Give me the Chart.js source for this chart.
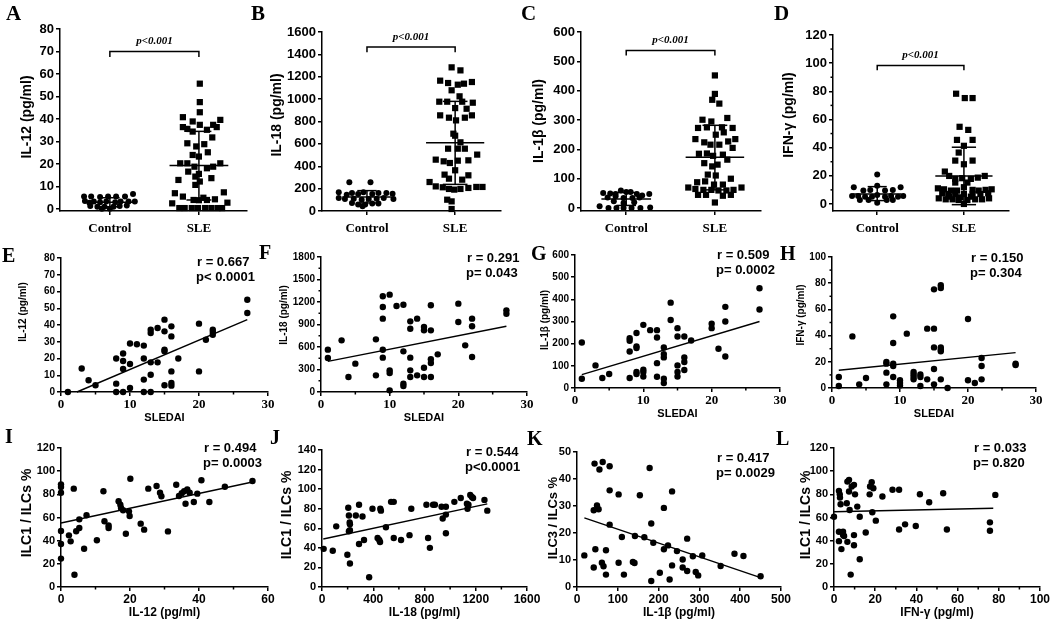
<!DOCTYPE html>
<html>
<head>
<meta charset="utf-8">
<script src="https://cdn.jsdelivr.net/npm/chart.js@4.4.1/dist/chart.umd.min.js"></script>
<style>
  html, body { margin: 0; padding: 0; background: #fff; }
  body { width: 1050px; height: 623px; overflow: hidden; position: relative; }
  canvas { position: absolute; }
</style>
</head>
<body>
<script>
var sans = '"Liberation Sans", Arial, sans-serif';
var serif = '"Liberation Serif", "Times New Roman", serif';

// ---- top row: Control vs SLE, [x offset from group centre, value] ----
var groupLabels = ['Control', 'SLE'];
var pLabel = 'p<0.001';

var il12Ctrl = [[-0.29,5.5],[-0.21,5.5],[-0.11,5.3],[-0.02,5.5],[0.07,5.5],[0.17,5.5],[0.26,6.7],[-0.28,3.6],[-0.23,2.8],[-0.18,3.3],[-0.11,3.0],[-0.04,3.3],[0.06,3.0],[0.12,3.3],[0.21,3.3],[0.28,3.3],[-0.22,1.3],[-0.14,1.0],[-0.06,1.0],[0.04,1.0],[0.11,1.3],[0.19,1.5],[-0.09,0.1],[0,0.1]];
var il12Sle = [[0.01,55.7],[0.01,47.5],[0.01,43],[-0.18,40.8],[-0.07,38.9],[0.01,37.4],[0.16,37.4],[0.24,39.6],[-0.18,36.4],[-0.13,35.6],[-0.07,34.4],[0.09,35.2],[0.2,36.4],[0.15,31.8],[-0.13,29.2],[-0.03,27.8],[0.06,28.8],[-0.07,24],[0.1,25.2],[0,23.3],[-0.21,20.3],[-0.13,20.3],[0.24,20.3],[-0.05,18.8],[0.09,18.1],[0.16,18.8],[-0.12,16.6],[0,15.6],[-0.04,14.4],[0.14,13.7],[-0.23,12.9],[0.01,12.2],[-0.04,10.7],[-0.27,7],[0.28,7.4],[-0.18,5.5],[0.05,5],[-0.06,4],[0,3.9],[0.09,4],[0.18,4.3],[-0.3,2.5],[0.32,2.8],[-0.22,0.4],[-0.16,0.4],[-0.08,0.4],[-0.01,0.4],[0.07,0.4],[0.14,0.4],[0.21,0.4],[0.26,0.4]];
var il12Mean = [3.0, 19.3], il12SdHi = [5.0, 34.5], il12SdLo = [1.0, 4.0];

var il18Ctrl = [[-0.2,256],[0.04,256],[-0.32,167],[-0.23,146],[-0.17,161],[-0.1,152],[-0.04,167],[0.06,152],[0.13,161],[0.22,161],[0.29,155],[-0.32,116],[-0.25,107],[-0.15,110],[-0.06,101],[0.02,107],[0.11,110],[0.19,116],[0.3,107],[-0.17,72],[-0.1,57],[-0.02,57],[0.06,66],[0.13,66],[-0.05,42]];
var il18Sle = [[-0.04,1284],[0.06,1257],[-0.17,1165],[-0.08,1144],[0.03,1129],[0.1,1138],[0.19,1153],[-0.04,1079],[0.05,1025],[-0.18,977],[-0.09,977],[0.08,977],[0.2,968],[0,920],[0.13,914],[-0.17,855],[-0.07,834],[0.01,810],[0.11,834],[0.19,855],[-0.02,691],[0,673],[0.06,614],[-0.08,557],[0.03,557],[0.11,557],[0.25,504],[-0.22,459],[-0.13,444],[-0.06,429],[0.03,450],[0.15,453],[-0.12,325],[0,364],[0.15,319],[-0.07,289],[0.08,280],[-0.29,259],[-0.22,220],[-0.14,212],[-0.07,197],[-0.01,191],[0.06,197],[0.15,206],[0.24,215],[0.31,215],[-0.09,101],[-0.04,86],[-0.04,18]];
var il18Mean = [125, 611], il18SdHi = [182, 980], il18SdLo = [72, 238];

var il1bCtrl = [[-0.06,60],[0,55],[0.05,55],[-0.26,51],[-0.18,50],[-0.12,48],[0.12,48],[0.18,43],[0.26,48],[-0.21,36],[-0.12,40],[-0.03,34],[0.07,34],[0.15,36],[-0.14,23],[-0.03,17],[0.09,20],[-0.3,6],[-0.2,0],[-0.11,0],[-0.03,0],[0.06,0],[0.16,0],[0.27,2]];
var il1bSle = [[0,452],[0,389],[-0.03,369],[0.05,356],[-0.14,301],[-0.04,295],[0.14,307],[-0.19,273],[-0.09,275],[0.08,275],[0.2,273],[0.1,258],[0.01,250],[-0.22,235],[0.23,235],[-0.12,224],[-0.05,216],[0.05,216],[0.15,227],[0.2,205],[-0.18,185],[-0.09,186],[-0.02,178],[0.09,182],[0.14,165],[-0.12,153],[-0.03,142],[0.03,148],[-0.08,114],[0.01,111],[0.18,100],[-0.2,88],[-0.11,91],[-0.01,80],[0.09,80],[-0.3,70],[-0.22,65],[-0.13,62],[-0.04,62],[0.04,60],[0.13,60],[0.21,62],[0.3,70],[-0.19,45],[-0.1,45],[0.09,42],[0.18,45],[0,19]];
var il1bMean = [31, 173], il1bSdHi = [53, 282], il1bSdLo = [9, 62];

var ifngCtrl = [[0,21],[-0.27,11.9],[-0.16,9.5],[-0.08,10],[0,13],[0.09,9.5],[0.18,10],[0.27,11.9],[-0.29,5.7],[-0.22,5.7],[-0.14,5.2],[-0.06,5.2],[0,6.4],[0.09,5.2],[0.16,5.7],[0.24,5.2],[0.3,5.7],[-0.2,2.8],[-0.1,2.8],[0,0.9],[0.11,2.8],[0.18,2.8]];
var ifngSle = [[-0.09,78.3],[0.01,75.2],[0.1,75.2],[-0.05,54.8],[0.05,52.6],[-0.08,45.5],[0.1,45.5],[0,41.3],[-0.06,36.5],[-0.1,30.8],[0.1,30.8],[0,28.2],[-0.22,23],[-0.17,19.9],[-0.1,17.8],[-0.02,18.3],[0.08,17.8],[0.16,18.7],[0.24,19.9],[-0.1,15.2],[0.04,15.2],[0,11.9],[-0.3,11.1],[-0.23,10.4],[-0.15,9.5],[-0.08,9.5],[0.1,10],[0.17,9.5],[0.25,10],[0.32,10.4],[-0.25,7.6],[-0.18,7.1],[-0.1,7.1],[0,7.1],[0.1,7.1],[0.19,7.1],[0.28,7.6],[-0.29,4],[-0.21,3.3],[-0.13,3.3],[-0.06,2.8],[0.04,2.8],[0.13,3.3],[0.21,3.3],[0.29,4],[-0.17,5.2],[-0.04,4.7],[0.08,5.2],[0,0]];
var ifngMean = [7.1, 19.9], ifngSdHi = [12.3, 40.3], ifngSdLo = [2.4, -0.5];

// ---- middle row: cytokine vs SLEDAI, [SLEDAI, value] ----
var sledaiIl12 = [[1,0],[3,14],[4,7],[5,4],[8,20],[8,5],[8,0],[9,23],[9,18.5],[9,13.7],[9,0],[10,29],[10,16.7],[10,2.4],[11,28.5],[12,27.7],[12,20],[12,7.4],[12,0],[13,37.2],[13,35.2],[13,17.7],[13,10.3],[13,0],[14,38.2],[14,17.7],[15,43.2],[15,36.2],[15,25.3],[15,24.3],[15,4],[16,39.2],[16,33.2],[16,12.3],[16,5.4],[16,3.8],[17,20],[20,40.8],[20,12.3],[21,31.2],[22,37.2],[22,35.8],[22,34.2],[27,55.1],[27,47.2]];
var sledaiIl18 = [[1,565],[1,453],[3,689],[4,200],[5,378],[8,702],[8,222],[9,1276],[9,1133],[9,978],[9,564],[9,458],[10,1298],[10,289],[10,253],[10,22],[11,1147],[12,1164],[12,542],[12,111],[12,80],[13,942],[13,844],[13,458],[13,289],[13,200],[14,978],[14,222],[15,867],[15,822],[15,324],[15,200],[16,1156],[16,822],[16,436],[16,387],[16,200],[17,502],[20,1178],[20,933],[21,622],[22,978],[22,876],[22,467],[27,1089],[27,1044]];
var sledaiIl1b = [[1,205],[1,42],[3,102],[4,45],[5,63],[8,225],[8,213],[8,165],[8,45],[9,248],[9,188],[9,180],[9,72],[9,63],[10,285],[10,82],[10,72],[10,52],[11,261],[12,261],[12,228],[12,112],[12,51],[13,183],[13,153],[13,138],[13,42],[13,22],[14,385],[14,307],[15,270],[15,232],[15,102],[15,72],[15,52],[16,232],[16,138],[16,117],[16,81],[17,214],[20,290],[20,270],[21,177],[22,366],[22,300],[22,142],[27,450],[27,354]];
var sledaiIfng = [[1,8.4],[1,1.5],[3,39.4],[4,2.8],[5,7.6],[8,19.8],[8,18.6],[8,11.7],[8,2.8],[9,54.7],[9,34.4],[9,18.6],[9,16.8],[9,8.4],[10,5.9],[10,3.8],[10,2],[11,41.5],[12,12.2],[12,10.4],[12,8.4],[12,6.6],[13,10.4],[13,8.4],[13,1.5],[14,45.3],[14,6.6],[15,75.3],[15,45.3],[15,31],[15,14.5],[15,2.8],[16,78.4],[16,76.3],[16,31],[16,29.3],[16,28],[16,6.6],[17,0],[20,52.7],[20,5.9],[21,3.8],[22,22.9],[22,16.8],[22,6.6],[27,18.6],[27,17.6]];
var fitIl12 = [[2.3,0],[27,43.2]];
var fitIl18 = [[1,409],[27,876]];
var fitIl1b = [[1,60],[27,300]];
var fitIfng = [[1,13.5],[27,27]];

// ---- bottom row: ILC % vs cytokine, [cytokine, %] ----
var ilc1Il12 = [[0,88.6],[0,86.3],[0,81.4],[0,48.3],[0,37.1],[0,24.5],[2.3,44.6],[2.8,39.4],[3.7,84.9],[3.9,10.6],[4.4,48.1],[5.3,58.4],[5.3,50.9],[6.7,33],[7.4,61.9],[10.4,40.3],[12.3,82.6],[12.6,56.7],[13.8,53.2],[13.8,50.9],[16.7,74],[17.2,71.1],[17.4,68.2],[18,66.2],[18.8,46],[19.7,65.3],[19.9,61.3],[20.1,93.5],[23.1,54.7],[24.1,49.5],[25.3,84.9],[27.7,87.2],[28.7,81.4],[29.1,78.3],[31,48],[33.4,88.3],[34.2,78.6],[35,80.9],[35.7,82.6],[36.1,71.9],[36.6,84.3],[37.3,81.4],[38.5,73.4],[39.5,80.6],[40.7,92.1],[43,73.4],[47.5,86.6],[55.5,91.5]];
var ilc1Il18 = [[13,39],[84,37],[111,62],[198,33],[205,81],[210,73],[210,57],[216,66],[218,64],[218,58],[218,24],[264,73],[289,84],[289,44],[316,72],[328,48],[368,10],[394,80],[434,50],[447,48],[453,46],[455,80],[460,78],[499,61],[539,87],[560,87],[560,50],[617,48],[683,53],[697,80],[815,84],[828,50],[842,40],[867,84],[881,84],[933,82],[942,70],[967,82],[967,74],[967,55],[1033,87],[1083,91],[1131,85],[1136,80],[1143,84],[1157,94],[1170,92],[1179,91],[1268,89],[1290,78]];
var ilc3Il1b = [[18,11.7],[41,7.2],[43,45.7],[45,14],[41,28.4],[49,30.2],[53,28.8],[55,43.5],[63,46.3],[61,9],[65,7.7],[71,13.6],[71,4.6],[80,44.7],[80,35.8],[80,23.1],[102,34.3],[102,9],[110,18.5],[115,4.6],[137,9.3],[141,8.9],[142,18.9],[154,34],[165,18.4],[178,44.1],[182,23.5],[182,2.2],[187,16.4],[203,5.3],[213,29.3],[213,14],[223,15.4],[227,2.8],[233,35.4],[233,8],[245,13.3],[259,10.2],[259,7.2],[270,17.9],[270,5.9],[284,11.4],[291,5.6],[297,4.3],[307,11.7],[352,7.8],[386,12.3],[408,11.5],[450,4]];
var ilc1Ifng = [[0,60.7],[2.4,83],[2.8,80],[2.9,77.2],[3.2,71.4],[2.4,47.7],[2.4,39.6],[3.6,32.7],[4.4,47.7],[4.4,44.8],[4.9,44],[6.5,39],[6.2,72.3],[6.5,91],[7.3,92.5],[7.3,82.4],[7.6,66.5],[8.1,10.7],[8.6,86.8],[9.7,88.2],[10.2,80],[9.7,44.8],[9.7,36.1],[11.3,69.4],[12.5,60.7],[12.5,24],[15.4,47.1],[17.3,80],[17.5,86.8],[18.3,90.5],[19.1,85.3],[18.6,64.5],[20.3,57.3],[23.5,78.1],[28.4,83.9],[31.6,83.9],[31.6,49.7],[34.5,54.1],[39.7,52.6],[41.7,80.1],[46.2,73.2],[53,81],[54.8,49.7],[75.7,55.8],[75.7,48.6],[78.3,79.5]];
var fitIlc1Il12 = [[0,55.3],[55.5,90.6]];
var fitIlc1Il18 = [[10,49],[1290,85]];
var fitIlc3Il1b = [[18,25.6],[450,3.5]];
var fitIlc1Ifng = [[0,65],[77.3,68]];

// ---- tick labels ----
var t80 = [0,10,20,30,40,50,60,70,80];
var t1600 = [0,200,400,600,800,1000,1200,1400,1600];
var t600 = [0,100,200,300,400,500,600];
var t120 = [0,20,40,60,80,100,120];
var t1800 = [0,300,600,900,1200,1500,1800];
var t100 = [0,20,40,60,80,100];
var t140 = [0,20,40,60,80,100,120,140];
var t50 = [0,10,20,30,40,50];
var tSledai = [0,10,20,30];
var tIl12 = [0,20,40,60];
var tIl18 = [0,400,800,1200,1600];
var tIl1b = [0,100,200,300,400,500];
var tIfng = [0,20,40,60,80,100];

function dots(pts, base, style, r) {
    return {
        data: pts.map(function (q) { return {x: base + q[0], y: q[1]}; }),
        pointStyle: style, pointRadius: r, backgroundColor: '#000',
        borderWidth: 0, clip: false
    };
}
function seg(a, b, w) {
    return {
        data: [{x: a[0], y: a[1]}, {x: b[0], y: b[1]}],
        showLine: true, borderColor: '#000', borderWidth: w || 1.5,
        pointRadius: 0, clip: false
    };
}
function meanSd(mean, hi, lo) {
    var out = [];
    [1, 2].forEach(function (c, i) {
        var mw = i ? 0.33 : 0.28, cw = i ? 0.14 : 0.11;
        out.push(seg([c - mw, mean[i]], [c + mw, mean[i]]));
        out.push(seg([c - cw, hi[i]], [c + cw, hi[i]]));
        out.push(seg([c - cw, lo[i]], [c + cw, lo[i]]));
        out.push(seg([c, lo[i]], [c, hi[i]]));
    });
    return out;
}
function groupSets(ctrl, sle, mean, hi, lo) {
    return meanSd(mean, hi, lo).concat([dots(ctrl, 1, 'circle', 3), dots(sle, 2, 'rect', 4.4)]);
}
function corrSets(pts, fit) {
    return [seg(fit[0], fit[1], 1.4), dots(pts, 0, 'circle', 3.2)];
}

function txt(ctx, s, x, y, font, align, rot) {
    ctx.save();
    ctx.font = font;
    ctx.textAlign = align || 'center';
    ctx.textBaseline = 'middle';
    ctx.fillStyle = '#000';
    ctx.translate(x, y);
    if (rot) ctx.rotate(-Math.PI / 2);
    ctx.fillText(s, 0, 0);
    ctx.restore();
}

var panels = [
    {rect: [60, 29, 247, 211], x: [0.44, 2.54, [1, 2]], y: [-0.9, 80, t80], row: 1,
     sets: groupSets(il12Ctrl, il12Sle, il12Mean, il12SdHi, il12SdLo),
     letter: ['A', 6, 15], yTitle: ['IL-12 (pg/ml)', 27, 117, 14], bracket: [70, 67.6]},
    {rect: [322, 32, 501, 211], x: [0.49, 2.52, [1, 2]], y: [0, 1600, t1600], row: 1,
     sets: groupSets(il18Ctrl, il18Sle, il18Mean, il18SdHi, il18SdLo),
     letter: ['B', 251, 15], yTitle: ['IL-18 (pg/ml)', 277, 115, 14], bracket: [1466, 1418]},
    {rect: [581, 32, 761, 211], x: [0.49, 2.52, [1, 2]], y: [-10, 600, t600], row: 1,
     sets: groupSets(il1bCtrl, il1bSle, il1bMean, il1bSdHi, il1bSdLo),
     letter: ['C', 521, 15], yTitle: ['IL-1\u03b2 (pg/ml)', 539, 121, 14], bracket: [537, 520]},
    {rect: [833, 35, 1009, 211], x: [0.49, 2.52, [1, 2]], y: [-5, 120, t120], row: 1,
     yMinor: [10, 30, 50, 70, 90, 110],
     sets: groupSets(ifngCtrl, ifngSle, ifngMean, ifngSdHi, ifngSdLo),
     letter: ['D', 774, 15], yTitle: ['IFN-\u03b3 (pg/ml)', 789, 115, 14], bracket: [98.4, 94.9]},

    {rect: [61, 258, 268, 392], x: [0, 30, tSledai], y: [0, 80, t80], row: 2, xMinor: [5, 15, 25],
     sets: corrSets(sledaiIl12, fitIl12), letter: ['E', 2, 257],
     yTitle: ['IL-12 (pg/ml)', 23, 312, 10], xTitle: 'SLEDAI', stats: ['r = 0.667', 'p< 0.0001', 197, 262]},
    {rect: [321, 257, 527, 392], x: [0, 30, tSledai], y: [0, 1800, t1800], row: 2, xMinor: [5, 15, 25],
     yMinor: [150, 450, 750, 1050, 1350, 1650],
     sets: corrSets(sledaiIl18, fitIl18), letter: ['F', 259, 254],
     yTitle: ['IL-18 (pg/ml)', 284, 315, 10], xTitle: 'SLEDAI', stats: ['r = 0.291', 'p= 0.043', 467, 258]},
    {rect: [575, 255, 780, 388], x: [0, 30, tSledai], y: [0, 600, t600], row: 2, xMinor: [5, 15, 25],
     sets: corrSets(sledaiIl1b, fitIl1b), letter: ['G', 531, 255],
     yTitle: ['IL-1\u03b2 (pg/ml)', 545, 320, 10], xTitle: 'SLEDAI', stats: ['r = 0.509', 'p= 0.0002', 717, 255]},
    {rect: [832, 257, 1036, 388], x: [0, 30, tSledai], y: [0, 100, t100], row: 2, xMinor: [5, 15, 25],
     yMinor: [10, 30, 50, 70, 90],
     sets: corrSets(sledaiIfng, fitIfng), letter: ['H', 780, 255],
     yTitle: ['IFN-\u03b3 (pg/ml)', 801, 315, 10], xTitle: 'SLEDAI', stats: ['r = 0.150', 'p= 0.304', 971, 258]},

    {rect: [61, 448, 268, 587], x: [0, 60, tIl12], y: [0, 120, t120], row: 3, xMinor: [10, 30, 50],
     sets: corrSets(ilc1Il12, fitIlc1Il12), letter: ['I', 5, 438],
     yTitle: ['ILC1 / ILCs %', 27, 513, 14], xTitle: 'IL-12 (pg/ml)', stats: ['r = 0.494', 'p= 0.0003', 204, 448]},
    {rect: [322, 450, 527, 587], x: [0, 1600, tIl18], y: [0, 140, t140], row: 3, xMinor: [200, 600, 1000, 1400],
     sets: corrSets(ilc1Il18, fitIlc1Il18), letter: ['J', 270, 439],
     yTitle: ['ILC1 / ILCs %', 287, 515, 14], xTitle: 'IL-18 (pg/ml)', stats: ['r = 0.544', 'p<0.0001', 466, 452]},
    {rect: [577, 452, 781, 587], x: [0, 500, tIl1b], y: [0, 50, t50], row: 3,
     sets: corrSets(ilc3Il1b, fitIlc3Il1b), letter: ['K', 527, 440],
     yTitle: ['ILC3 / ILCs %', 553, 518, 13], xTitle: 'IL-1\u03b2 (pg/ml)', stats: ['r = 0.417', 'p= 0.0029', 717, 458]},
    {rect: [834, 448, 1040, 587], x: [0, 100, tIfng], y: [0, 120, t120], row: 3, xMinor: [10, 30, 50, 70, 90],
     sets: corrSets(ilc1Ifng, fitIlc1Ifng), letter: ['L', 776, 440],
     yTitle: ['ILC1 / ILCs %', 806, 515, 14], xTitle: 'IFN-\u03b3 (pg/ml)', stats: ['r = 0.033', 'p= 0.820', 974, 448]}
];

var padL = 80, padT = 45, padR = 40, padB = 45;

function makePanel(p) {
    var L = p.rect[0], T = p.rect[1], R = p.rect[2], B = p.rect[3];
    var w = R - L + padL + padR, h = B - T + padT + padB;
    var ox = L - padL, oy = T - padT;
    var cv = document.createElement('canvas');
    cv.width = w; cv.height = h;
    cv.style.left = ox + 'px'; cv.style.top = oy + 'px';
    cv.style.width = w + 'px'; cv.style.height = h + 'px';
    document.body.appendChild(cv);

    var yFont = p.row === 1 ? 13 : (p.row === 2 ? 10 : 11);
    var xFont = p.row === 3 ? {family: sans, weight: 'bold', size: 12} : {family: serif, weight: 'bold', size: 13};
    var xTicks = p.x[2], yTicks = p.y[2];

    var deco = {
        id: 'deco',
        afterDraw: function (chart) {
            var ctx = chart.ctx, a = chart.chartArea, xs = chart.scales.x, ys = chart.scales.y;
            ctx.save();
            ctx.strokeStyle = '#000';
            ctx.lineWidth = 1.5;
            (p.yMinor || []).forEach(function (v) {
                var y = ys.getPixelForValue(v);
                ctx.beginPath(); ctx.moveTo(a.left, y); ctx.lineTo(a.left - 2.5, y); ctx.stroke();
            });
            (p.xMinor || []).forEach(function (v) {
                var x = xs.getPixelForValue(v);
                ctx.beginPath(); ctx.moveTo(x, a.bottom); ctx.lineTo(x, a.bottom + 2.5); ctx.stroke();
            });
            if (p.bracket) {
                var x1 = xs.getPixelForValue(1), x2 = xs.getPixelForValue(2);
                var y1 = ys.getPixelForValue(p.bracket[0]), y2 = ys.getPixelForValue(p.bracket[1]);
                ctx.beginPath();
                ctx.moveTo(x1, y2); ctx.lineTo(x1, y1); ctx.lineTo(x2, y1); ctx.lineTo(x2, y2);
                ctx.stroke();
                txt(ctx, pLabel, (x1 + x2) / 2, y1 - 10, 'italic bold 11px ' + serif);
            }
            ctx.restore();
            var rowLetter = p.row === 1 ? 21 : 20;
            txt(ctx, p.letter[0], p.letter[1] - ox, p.letter[2] - oy, 'bold ' + rowLetter + 'px ' + serif, 'left');
            txt(ctx, p.yTitle[0], p.yTitle[1] - ox, p.yTitle[2] - oy, 'bold ' + p.yTitle[3] + 'px ' + sans, 'center', true);
            if (p.xTitle) {
                var xt = p.row === 2 ? 11 : 12;
                txt(ctx, p.xTitle, (a.left + a.right) / 2, a.bottom + 26, 'bold ' + xt + 'px ' + sans);
            }
            if (p.stats) {
                txt(ctx, p.stats[0], p.stats[2] - ox, p.stats[3] - oy, 'bold 13px ' + sans, 'left');
                txt(ctx, p.stats[1], p.stats[2] - 1 - ox, p.stats[3] + 15 - oy, 'bold 13px ' + sans, 'left');
            }
        }
    };

    new Chart(cv, {
        type: 'scatter',
        data: {datasets: p.sets},
        options: {
            responsive: false,
            animation: false,
            devicePixelRatio: 1,
            events: [],
            layout: {padding: {left: 0, top: padT, right: padR, bottom: 0}},
            plugins: {legend: {display: false}, tooltip: {enabled: false}},
            scales: {
                x: {
                    type: 'linear', min: p.x[0], max: p.x[1],
                    afterBuildTicks: function (s) { s.ticks = xTicks.map(function (v) { return {value: v}; }); },
                    afterFit: function (s) { s.height = padB; },
                    grid: {display: true, drawOnChartArea: false, drawTicks: true, tickLength: 4, color: '#000', lineWidth: 1.5},
                    border: {display: true, color: '#000', width: 1.5},
                    ticks: {
                        color: '#000', font: xFont, padding: p.row === 1 ? 6 : 1,
                        autoSkip: false, maxRotation: 0,
                        callback: function (v) { return p.row === 1 ? groupLabels[v - 1] : String(v); }
                    }
                },
                y: {
                    type: 'linear', min: p.y[0], max: p.y[1],
                    afterBuildTicks: function (s) { s.ticks = yTicks.map(function (v) { return {value: v}; }); },
                    afterFit: function (s) { s.width = padL; },
                    grid: {display: true, drawOnChartArea: false, drawTicks: true, tickLength: 4, color: '#000', lineWidth: 1.5},
                    border: {display: true, color: '#000', width: 1.5},
                    ticks: {
                        color: '#000', font: {family: sans, weight: 'bold', size: yFont}, padding: 2,
                        autoSkip: false,
                        callback: function (v) { return String(v); }
                    }
                }
            }
        },
        plugins: [deco]
    });
}

panels.forEach(makePanel);
</script>
</body>
</html>
